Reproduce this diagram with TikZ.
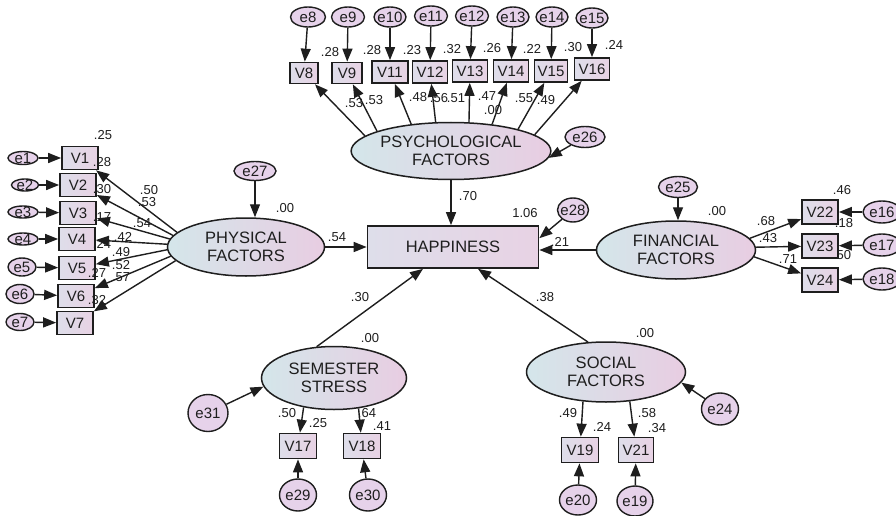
\documentclass[tikz,border=0pt]{standalone}
\usepackage{fontspec}
\setmainfont{Liberation Sans}
\usetikzlibrary{shapes.geometric,arrows.meta,calc}
\definecolor{latL}{RGB}{212,230,234}
\definecolor{latR}{RGB}{232,205,226}
\definecolor{obsL}{RGB}{222,222,234}
\definecolor{obsR}{RGB}{232,210,228}
\definecolor{errC}{RGB}{230,210,234}
\definecolor{bd}{RGB}{30,30,30}
\definecolor{txt}{RGB}{30,30,30}
\begin{document}
\begin{tikzpicture}[x=1pt,y=-1pt,
  lat/.style={ellipse, draw=bd, line width=1.5pt, left color=latL, right color=latR, inner sep=0pt, align=center, font=\fontsize{16.5}{18}\selectfont, text=txt},
  obs/.style={rectangle, draw=bd, line width=1.7pt, left color=obsL, right color=obsR, inner sep=0pt, minimum width=36pt, minimum height=23pt, font=\fontsize{15}{15}\selectfont, text=txt},
  err/.style={ellipse, draw=bd, line width=1.4pt, fill=errC, inner sep=0pt, label={[font=\fontsize{15}{15}\selectfont, text=txt]center:#1}},
  arr/.style={-{Triangle[length=13pt,width=10pt]}, line width=1.4pt, draw=bd},
  num/.style={font=\fontsize{13}{14}\selectfont, text=txt, inner sep=0pt}]
\useasboundingbox[fill=white] (0,0) rectangle (896,516);

% latent variables
\node[lat, minimum width=176pt, minimum height=57pt] (psy) at (451,151) {PSYCHOLOGICAL\\FACTORS};
\node[lat, minimum width=157pt, minimum height=58pt] (phys) at (246,247) {PHYSICAL\\FACTORS};
\node[lat, minimum width=159pt, minimum height=58pt] (fin) at (676,250) {FINANCIAL\\FACTORS};
\node[lat, minimum width=145pt, minimum height=63pt] (sem) at (334,378) {SEMESTER\\STRESS};
\node[lat, minimum width=159pt, minimum height=60pt] (soc) at (606,372) {SOCIAL\\FACTORS};
\node[obs, minimum width=171pt, minimum height=42pt, font=\fontsize{16.5}{18}\selectfont] (hap) at (453,247) {HAPPINESS};

% observed - top
\node[obs, minimum width=28pt, minimum height=21pt] (V8) at (304,73) {V8};
\node[obs, minimum width=30pt, minimum height=21pt] (V9) at (347,73) {V9};
\node[obs, minimum width=36pt, minimum height=22pt] (V11) at (390,72) {V11};
\node[obs, minimum width=35pt, minimum height=22pt] (V12) at (430,72) {V12};
\node[obs, minimum width=35pt, minimum height=22pt] (V13) at (470,71) {V13};
\node[obs, minimum width=35pt, minimum height=22pt] (V14) at (511,71) {V14};
\node[obs, minimum width=33pt, minimum height=22pt] (V15) at (551,71) {V15};
\node[obs, minimum width=35pt, minimum height=22pt] (V16) at (592,69) {V16};
% observed - left
\node[obs] (V1) at (80,158) {V1};
\node[obs] (V2) at (78,185) {V2};
\node[obs] (V3) at (78,213) {V3};
\node[obs] (V4) at (77,239) {V4};
\node[obs] (V5) at (77,268) {V5};
\node[obs] (V6) at (76,296) {V6};
\node[obs] (V7) at (75,323) {V7};
% observed - right
\node[obs, minimum height=24pt] (V22) at (820,212) {V22};
\node[obs, minimum height=24pt] (V23) at (820,246) {V23};
\node[obs, minimum height=24pt] (V24) at (820,280) {V24};
% observed - bottom
\node[obs, minimum width=37pt, minimum height=25pt] (V17) at (298,446) {V17};
\node[obs, minimum width=37pt, minimum height=25pt] (V18) at (362,446) {V18};
\node[obs, minimum width=37pt, minimum height=25pt] (V19) at (580,450) {V19};
\node[obs, minimum width=35pt, minimum height=25pt] (V21) at (636,450) {V21};

% error terms
\node[err=e8, minimum width=35pt, minimum height=20pt] (e8) at (308,17) {};
\node[err=e9, minimum width=33pt, minimum height=20pt] (e9) at (348,17) {};
\node[err=e10, minimum width=32pt, minimum height=20pt] (e10) at (390,17) {};
\node[err=e11, minimum width=33pt, minimum height=20pt] (e11) at (431,16) {};
\node[err=e12, minimum width=33pt, minimum height=20pt] (e12) at (472,16) {};
\node[err=e13, minimum width=32pt, minimum height=20pt] (e13) at (513,17) {};
\node[err=e14, minimum width=32pt, minimum height=20pt] (e14) at (552,17) {};
\node[err=e15, minimum width=32pt, minimum height=20pt] (e15) at (592,18) {};
\node[err=e26, minimum width=40pt, minimum height=21pt] (e26) at (585,137) {};
\node[err=e27, minimum width=42pt, minimum height=19pt] (e27) at (255,171) {};
\node[err=e28, minimum width=31pt, minimum height=24pt] (e28) at (573,210) {};
\node[err=e25, minimum width=39pt, minimum height=21pt] (e25) at (678,187) {};
\node[err=e16, minimum width=38pt, minimum height=22pt] (e16) at (882,212) {};
\node[err=e17, minimum width=38pt, minimum height=22pt] (e17) at (882,245) {};
\node[err=e18, minimum width=38pt, minimum height=22pt] (e18) at (882,279) {};
\node[err=e1, minimum width=30pt, minimum height=13pt] (e1) at (23,158) {};
\node[err=e2, minimum width=27pt, minimum height=12pt] (e2) at (25,185) {};
\node[err=e3, minimum width=30pt, minimum height=12pt] (e3) at (23,212) {};
\node[err=e4, minimum width=30pt, minimum height=12pt] (e4) at (23,239) {};
\node[err=e5, minimum width=28pt, minimum height=18pt] (e5) at (22,267) {};
\node[err=e6, minimum width=28pt, minimum height=19pt] (e6) at (20,294) {};
\node[err=e7, minimum width=28pt, minimum height=17pt] (e7) at (20,322) {};
\node[err=e31, minimum width=40pt, minimum height=37pt] (e31) at (208,413) {};
\node[err=e29, minimum width=37pt, minimum height=32pt] (e29) at (298,495) {};
\node[err=e30, minimum width=37pt, minimum height=32pt] (e30) at (368,495) {};
\node[err=e24, minimum width=37pt, minimum height=32pt] (e24) at (720,409) {};
\node[err=e20, minimum width=37pt, minimum height=30pt] (e20) at (578,500) {};
\node[err=e19, minimum width=36pt, minimum height=30pt] (e19) at (635,501) {};

% structural paths
\draw[arr] (psy.south) -- (psy.south |- hap.north);
\draw[arr] (phys.east) -- (phys.east -| hap.west);
\draw[arr] (fin.west) -- (fin.west -| hap.east);
\draw[arr] (sem.119) -- ($(hap.south)+(-30,0)$);
\draw[arr] (soc.121) -- ($(hap.south)+(25,0)$);
\draw[arr] (e28) -- ($(hap.north east)+(0,13)$);
\draw[arr] (e26) -- (psy.-4);
\draw[arr] (e27) -- (e27 |- phys.north);
\draw[arr] (e25) -- (e25 |- fin.north);
\draw[arr] (e31) -- (sem.187);
\draw[arr] (e24) -- (soc.-8);

% loadings psychological
\draw[arr] (psy.170) -- (V8);
\draw[arr] (psy.165) -- (V9);
\draw[arr] (psy.146) -- (V11);
\draw[arr] (psy.118) -- (V12);
\draw[arr] (psy.58) -- (V13);
\draw[arr] (psy.33) -- (V14);
\draw[arr] (psy.18) -- (V15);
\draw[arr] (psy.11) -- (V16);
% loadings physical
\draw[arr] (phys.168) -- (V1);
\draw[arr] (phys.171) -- (V2);
\draw[arr] (phys.174) -- (V3);
\draw[arr] (phys.178) -- (V4);
\draw[arr] (phys.182) -- (V5);
\draw[arr] (phys.187) -- (V6);
\draw[arr] (phys.191) -- (V7);
% loadings financial
\draw[arr] (fin.9) -- (V22);
\draw[arr] (fin.2) -- (V23);
\draw[arr] (fin.-5) -- (V24);
% loadings semester / social
\draw[arr] (sem.224) -- (V17);
\draw[arr] (sem.309) -- (V18);
\draw[arr] (soc.232) -- (V19);
\draw[arr] (soc.309) -- (V21);

% error arrows
\draw[arr] (e8) -- (V8);
\draw[arr] (e9) -- (V9);
\draw[arr] (e10) -- (V11);
\draw[arr] (e11) -- (V12);
\draw[arr] (e12) -- (V13);
\draw[arr] (e13) -- (V14);
\draw[arr] (e14) -- (V15);
\draw[arr] (e15) -- (V16);
\draw[arr] (e1) -- (V1);
\draw[arr] (e2) -- (V2);
\draw[arr] (e3) -- (V3);
\draw[arr] (e4) -- (V4);
\draw[arr] (e5) -- (V5);
\draw[arr] (e6) -- (V6);
\draw[arr] (e7) -- (V7);
\draw[arr] (e16) -- (V22);
\draw[arr] (e17) -- (V23);
\draw[arr] (e18) -- (V24);
\draw[arr] (e29) -- (V17);
\draw[arr] (e30) -- (V18);
\draw[arr] (e20) -- (V19);
\draw[arr] (e19) -- (V21);

% numbers - top
\node[num] at (330,52) {.28};
\node[num] at (372,50) {.28};
\node[num] at (412,50) {.23};
\node[num] at (452,49) {.32};
\node[num] at (492,48) {.26};
\node[num] at (532,49) {.22};
\node[num] at (573,47) {.30};
\node[num] at (614,45) {.24};
\node[num] at (354,103) {.53};
\node[num] at (374,100) {.53};
\node[num] at (418,97) {.48};
\node[num] at (439,98) {.56};
\node[num] at (456,98) {.51};
\node[num] at (487,96) {.47};
\node[num] at (493,110) {.00};
\node[num] at (524,98) {.55};
\node[num] at (546,100) {.49};
\node[num] at (468,196) {.70};
% numbers - left
\node[num] at (103,135) {.25};
\node[num] at (102,162) {.28};
\node[num] at (149,190) {.50};
\node[num] at (147,202) {.53};
\node[num] at (102,189) {.30};
\node[num] at (142,223) {.54};
\node[num] at (102,217) {.17};
\node[num] at (123,237) {.42};
\node[num] at (102,244) {.24};
\node[num] at (121,252) {.49};
\node[num] at (97,273) {.27};
\node[num] at (121,265) {.52};
\node[num] at (121,277) {.57};
\node[num] at (97,300) {.32};
\node[num] at (285,208) {.00};
\node[num] at (337,237) {.54};
% numbers - happiness / financial
\node[num] at (525,213) {1.06};
\node[num] at (560,242) {.21};
\node[num] at (717,211) {.00};
\node[num] at (842,190) {.46};
\node[num] at (766,221) {.68};
\node[num] at (768,238) {.43};
\node[num] at (844,223) {.18};
\node[num] at (788,259) {.71};
\node[num] at (842,255) {.50};
% numbers - bottom
\node[num] at (370,338) {.00};
\node[num] at (360,297) {.30};
\node[num] at (287,413) {.50};
\node[num] at (318,423) {.25};
\node[num] at (367,413) {.64};
\node[num] at (382,426) {.41};
\node[num] at (645,333) {.00};
\node[num] at (545,297) {.38};
\node[num] at (568,413) {.49};
\node[num] at (602,427) {.24};
\node[num] at (647,413) {.58};
\node[num] at (657,428) {.34};
\end{tikzpicture}
\end{document}
